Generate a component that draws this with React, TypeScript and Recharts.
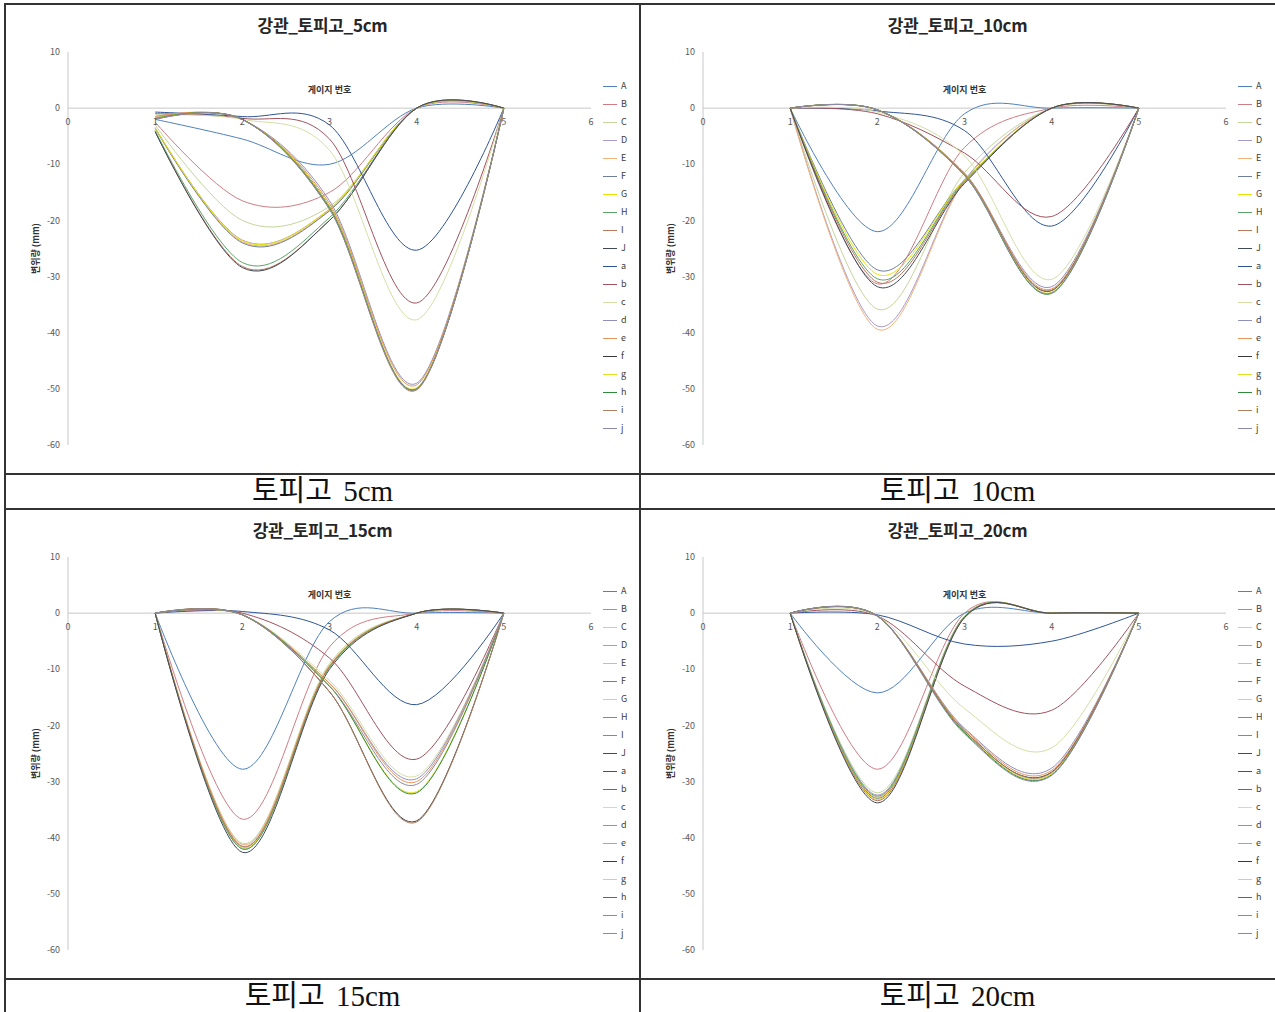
import { LineChart, Line, XAxis, YAxis, ReferenceLine, ReferenceDot, Legend } from "recharts";

const FONT = "'Noto Sans CJK KR', 'Noto Sans', sans-serif";

const gauges = [1, 2, 3, 4, 5];
const xTicks = [0, 1, 2, 3, 4, 5, 6];
const yTicks = [10, 0, -10, -20, -30, -40, -50, -60];

const seriesNames = ["A", "B", "C", "D", "E", "F", "G", "H", "I", "J", "a", "b", "c", "d", "e", "f", "g", "h", "i", "j"];
const seriesColors = [
  "#4f81bd", "#cf7c85", "#c3d69b", "#a99bc9", "#f2b27a", "#6f7f99", "#e6e600", "#5aa469", "#b9775c", "#404a5a",
  "#2f5597", "#a0525e", "#d4dfa6", "#9090c0", "#e8945a", "#3a3a3a", "#e0e020", "#2e8b3a", "#b08060", "#8a8aa8",
];

// 토피고 5cm  (값: 게이지 1~5)
const upper5 = [
  [-2, -5.5, -10, 0, 0],
  [-2.5, -16.5, -15, 0, 0],
  [-3, -20, -17.5, 0, 0],
  [-3.5, -23.5, -18, 0, 0],
  [-3.5, -23.8, -18.2, 0, 0],
  [-3.6, -24, -18.3, 0, 0],
  [-3.5, -23.6, -18, 0, 0],
  [-4, -27.5, -19.5, 0, 0],
  [-4.2, -28.2, -20, 0, 0],
  [-4.2, -28.4, -20, 0, 0],
];
const lower5 = [
  [-0.7, -1.5, -3, -25.3, 0],
  [-1, -1.8, -5.5, -34.7, 0],
  [-1.2, -2, -7.5, -37.7, 0],
  [-1.5, -2, -16.5, -49, 0],
  [-1.5, -2, -17, -49.3, 0],
  [-1.8, -2, -17.5, -50, 0],
  [-1.8, -2, -17.5, -49.8, 0],
  [-1.9, -2, -17.8, -50, 0],
  [-2, -2, -18, -50.2, 0],
  [-2, -2, -18, -50, 0],
];

// 토피고 10cm
const upper10 = [
  [0, -22, -1, 0, 0],
  [0, -31.3, -7, 0, 0],
  [0, -35.8, -11.5, 0, 0],
  [0, -38.8, -12.8, 0, 0],
  [0, -39.4, -13, 0, 0],
  [0, -28.8, -12.8, 0, 0],
  [0, -29.6, -12.8, 0, 0],
  [0, -30.4, -13, 0, 0],
  [0, -31, -13.2, 0, 0],
  [0, -31.8, -13.4, 0, 0],
];
const lower10 = [
  [0, -0.5, -4, -21, 0],
  [0, -1, -8, -19.3, 0],
  [0, -0.7, -8.5, -30.5, 0],
  [0, -0.3, -11.6, -31.8, 0],
  [0, -0.3, -11.6, -32.2, 0],
  [0, -0.3, -11.8, -32.5, 0],
  [0, -0.3, -11.8, -32.8, 0],
  [0, -0.3, -12, -33, 0],
  [0, -0.3, -11.8, -32.4, 0],
  [0, -0.3, -12, -32.9, 0],
];

// 토피고 15cm
const upper15 = [
  [0, -27.8, -1.5, 0, 0],
  [0, -36.7, -6, 0, 0],
  [0, -41, -9, 0, 0],
  [0, -41.5, -9.5, 0, 0],
  [0, -41.2, -9.3, 0, 0],
  [0, -42, -9.5, 0, 0],
  [0, -41.8, -9.5, 0, 0],
  [0, -42, -9.7, 0, 0],
  [0, -41.6, -9.5, 0, 0],
  [0, -42.6, -10, 0, 0],
];
const lower15 = [
  [0, 0.3, -3, -16.3, 0],
  [0, 0, -8, -26, 0],
  [0, -0.3, -12, -29, 0],
  [0, -0.3, -12.5, -29.5, 0],
  [0, -0.3, -12.5, -30, 0],
  [0, -0.3, -14, -37, 0],
  [0, -0.3, -13, -31.8, 0],
  [0, -0.3, -13, -32, 0],
  [0, -0.3, -14, -37.2, 0],
  [0, -0.3, -13, -30.5, 0],
];

// 토피고 20cm
const upper20 = [
  [0, -14.2, 0, 0, 0],
  [0, -27.8, 0, 0, 0],
  [0, -32, -0.5, 0, 0],
  [0, -32.4, -0.6, 0, 0],
  [0, -32.8, -0.6, 0, 0],
  [0, -33, -0.7, 0, 0],
  [0, -33.2, -0.7, 0, 0],
  [0, -32.6, -0.6, 0, 0],
  [0, -33.4, -0.8, 0, 0],
  [0, -33.8, -0.8, 0, 0],
];
const lower20 = [
  [0, -0.3, -5.5, -5, 0],
  [0, -0.5, -13, -17.3, 0],
  [0, -0.5, -17, -24, 0],
  [0, -0.5, -20.5, -27.6, 0],
  [0, -0.5, -20.7, -28, 0],
  [0, -0.5, -21, -28.3, 0],
  [0, -0.5, -21.2, -28.6, 0],
  [0, -0.5, -21.3, -28.8, 0],
  [0, -0.5, -21, -28.4, 0],
  [0, -0.5, -21.5, -28.9, 0],
];

// Excel 스타일 부드러운 선 (cardinal, tension 0)
const K = 1 / 6;
function excelSmooth(ctx: any) {
  let x0 = NaN, y0 = NaN, x1 = NaN, y1 = NaN, x2 = NaN, y2 = NaN, n = 0;
  const seg = (x: number, y: number) =>
    ctx.bezierCurveTo(x1 + K * (x2 - x0), y1 + K * (y2 - y0), x2 + K * (x1 - x), y2 + K * (y1 - y), x2, y2);
  return {
    areaStart() {},
    areaEnd() {},
    lineStart() {
      x0 = x1 = x2 = y0 = y1 = y2 = NaN;
      n = 0;
    },
    lineEnd() {
      if (n === 2) ctx.lineTo(x2, y2);
      else if (n === 3) seg(x1, y1);
    },
    point(x: number, y: number) {
      x = +x;
      y = +y;
      if (n === 0) {
        n = 1;
        ctx.moveTo(x, y);
      } else if (n === 1) {
        n = 2;
        x1 = x;
        y1 = y;
      } else {
        n = 3;
        seg(x, y);
      }
      x0 = x1; x1 = x2; x2 = x;
      y0 = y1; y1 = y2; y2 = y;
    },
  };
}

function toRows(values: number[][]) {
  return gauges.map((g, i) => {
    const row: any = { x: g };
    seriesNames.forEach((name, s) => (row[name] = values[s][i]));
    return row;
  });
}

const panels = [
  { cover: "5cm", rows: toRows([...upper5, ...lower5]), left: 5, top: 4 },
  { cover: "10cm", rows: toRows([...upper10, ...lower10]), left: 640, top: 4 },
  { cover: "15cm", rows: toRows([...upper15, ...lower15]), left: 5, top: 509 },
  { cover: "20cm", rows: toRows([...upper20, ...lower20]), left: 640, top: 509 },
];

const YTitle = (props: any) => {
  const { x, y, height } = props.viewBox;
  const cx = x + 7;
  const cy = y + height / 2;
  return (
    <text x={cx} y={cy} transform={`rotate(-90 ${cx} ${cy})`} textAnchor="middle" dominantBaseline="central"
      fontSize={9} fontWeight="bold" fill="#333" fontFamily={FONT}>
      변위량 (mm)
    </text>
  );
};

const renderLegend = (props: any) => {
  const items = [...(props.payload || [])].sort(
    (p: any, q: any) => seriesNames.indexOf(p.value) - seriesNames.indexOf(q.value)
  );
  return (
    <div style={{ width: 34 }}>
      {items.map((p: any) => (
        <div key={p.value} style={{ height: 18, display: "flex", alignItems: "center" }}>
          <div style={{ width: 14, height: 1, background: p.color }} />
          <span style={{ fontSize: 9, color: "#404040", marginLeft: 4, fontFamily: FONT, lineHeight: "18px" }}>{p.value}</span>
        </div>
      ))}
    </div>
  );
};

function Panel({ cover, rows, left, top }: any) {
  return (
    <div style={{ position: "absolute", left, top, width: 635, height: 470 }}>
      <div style={{ position: "absolute", left: 0, top: 8, width: 635, textAlign: "center", fontSize: 17,
        fontWeight: "bold", fontFamily: FONT, color: "#262626", zIndex: 2, letterSpacing: -0.3 }}>
        {"강관_토피고_" + cover}
      </div>
      <LineChart width={635} height={470} data={rows} margin={{ top: 48, right: 49, bottom: 29, left: 23 }}>
        <XAxis type="number" dataKey="x" domain={[0, 6]} ticks={xTicks} hide />
        <YAxis type="number" domain={[-60, 10]} ticks={yTicks} width={40} axisLine={{ stroke: "#c8c8c8" }}
          tickLine={false} tickSize={0} tickMargin={8} tick={{ fontSize: 9, fill: "#595959", fontFamily: FONT }}
          label={{ content: YTitle }} />
        <ReferenceLine y={0} stroke="#c8c8c8"
          label={{ value: "게이지 번호", position: "top", offset: 15, fontSize: 9, fontWeight: "bold", fill: "#333", fontFamily: FONT }} />
        {xTicks.map((t) => (
          <ReferenceDot key={t} x={t} y={0} r={1} fill="none" stroke="none"
            label={{ value: String(t), position: "bottom", offset: 9, fontSize: 9, fill: "#595959", fontFamily: FONT }} />
        ))}
        <Legend layout="vertical" align="center" verticalAlign="middle" wrapperStyle={{ left: 598, top: 73, width: 34 }}
          content={renderLegend} />
        {seriesNames.map((name, i) => (
          <Line key={name} dataKey={name} name={name} stroke={seriesColors[i]} strokeWidth={1} dot={false}
            type={excelSmooth as any} isAnimationActive={false} />
        ))}
      </LineChart>
    </div>
  );
}

const hLines = [4, 474, 509, 979];
const vLines = [5, 640];

export default function App() {
  return (
    <div style={{ position: "absolute", left: 0, top: 0, width: 1275, height: 1012, background: "#fff", overflow: "hidden" }}>
      {panels.map((p) => (
        <Panel key={p.cover} {...p} />
      ))}
      {panels.map((p) => (
        <div key={"c" + p.cover} style={{ position: "absolute", left: p.left, top: p.top + 470, width: 635, height: 35,
          lineHeight: "35px", textAlign: "center", fontSize: 29, color: "#111", wordSpacing: 4,
          fontFamily: "'Liberation Serif', 'Noto Sans CJK KR', serif" }}>
          {"토피고 " + p.cover}
        </div>
      ))}
      {hLines.map((y) => (
        <div key={"h" + y} style={{ position: "absolute", left: 5, top: y - 1, width: 1270, height: 2, background: "#333" }} />
      ))}
      {vLines.map((x) => (
        <div key={"v" + x} style={{ position: "absolute", left: x - 1, top: 3, width: 2, height: 1009, background: "#333" }} />
      ))}
    </div>
  );
}
